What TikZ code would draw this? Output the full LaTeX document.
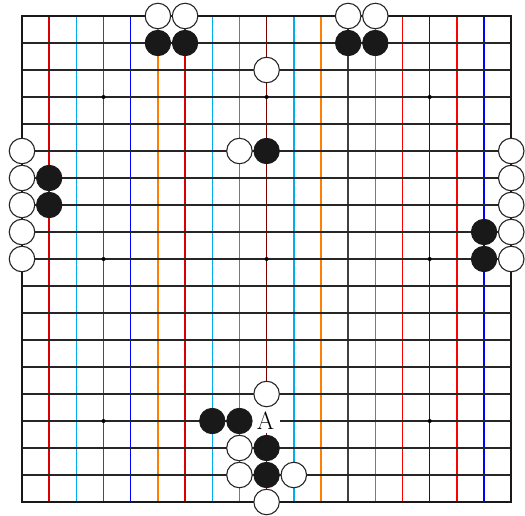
\documentclass[tikz,border=0pt]{standalone}
\begin{document}
\begin{tikzpicture}[x=27.18pt,y=-27pt,
  wstone/.style={circle,draw=black!85,line width=1.1pt,fill=white,minimum size=25.5pt,inner sep=0pt},
  bstone/.style={circle,draw=black!90,line width=0.8pt,fill=black!90,minimum size=25.5pt,inner sep=0pt},
  hline/.style={line width=1.3pt,black!85},
  vline/.style={line width=1.5pt},
  starpt/.style={fill=black}]
\useasboundingbox[fill=white] (-0.8094,-0.5926) rectangle (18.5063,18.5185);
% vertical lines (coloured as in the print)
\foreach \i/\c in {1/red!85!black,2/cyan,3/red,4/blue,5/orange,6/red!85!black,7/cyan,8/orange!60!red,9/red!50!black,10/cyan,11/orange,12/black!75,13/cyan!70!green,14/red,15/blue,16/red,17/blue}
  \draw[vline,\c] (\i,0) -- (\i,18);
% horizontal lines
\foreach \j in {1,...,17}
  \draw[hline] (0,\j) -- (18,\j);
% border
\draw[line width=1.7pt,black!90] (0,0) rectangle (18,18);
% star points
\foreach \p in {(3,3),(9,3),(15,3),(3,9),(9,9),(15,9),(3,15),(15,15)}
  \fill[starpt] \p circle (2pt);
% label A with cleared background
\node[fill=white,minimum width=28pt,minimum height=26pt,inner sep=0pt,font=\fontsize{25}{25}\selectfont] (A) at (8.96,14.98) {A};
% top stones
\node[wstone] (w1) at (5,0) {};
\node[wstone] (w2) at (6,0) {};
\node[bstone] (b1) at (5,1) {};
\node[bstone] (b2) at (6,1) {};
\node[wstone] (w3) at (12,0) {};
\node[wstone] (w4) at (13,0) {};
\node[bstone] (b3) at (12,1) {};
\node[bstone] (b4) at (13,1) {};
\node[wstone] (w5) at (9,2) {};
\node[wstone] (w6) at (8,5) {};
\node[bstone] (b5) at (9,5) {};
% left side
\foreach \r [count=\k] in {5,6,7,8,9}
  \node[wstone] (wl\k) at (0,\r) {};
\node[bstone] (bl1) at (1,6) {};
\node[bstone] (bl2) at (1,7) {};
% right side
\foreach \r [count=\k] in {5,6,7,8,9}
  \node[wstone] (wr\k) at (18,\r) {};
\node[bstone] (br1) at (17,8) {};
\node[bstone] (br2) at (17,9) {};
% bottom group
\node[wstone] (w7) at (9,14) {};
\node[bstone] (b6) at (7,15) {};
\node[bstone] (b7) at (8,15) {};
\node[wstone] (w8) at (8,16) {};
\node[wstone] (w9) at (8,17) {};
\node[bstone] (b8) at (9,16) {};
\node[bstone] (b9) at (9,17) {};
\node[wstone] (w10) at (10,17) {};
\node[wstone] (w11) at (9,18) {};
\end{tikzpicture}
\end{document}
